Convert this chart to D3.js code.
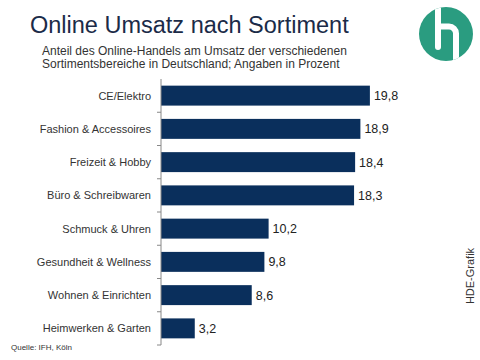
<!DOCTYPE html>
<html><head><meta charset="utf-8">
<script src="https://cdn.jsdelivr.net/npm/d3@7"></script>
<style>body{margin:0;background:#fff;}svg{display:block;font-family:"Liberation Sans",Arial,sans-serif;}</style>
</head><body>
<svg id="c" width="480" height="360"></svg>
<script>
const categories = ["CE/Elektro","Fashion & Accessoires","Freizeit & Hobby","Büro & Schreibwaren","Schmuck & Uhren","Gesundheit & Wellness","Wohnen & Einrichten","Heimwerken & Garten"];
const values = [19.8,18.9,18.4,18.3,10.2,9.8,8.6,3.2];
const valueLabels = ["19,8","18,9","18,4","18,3","10,2","9,8","8,6","3,2"];

const svg = d3.select("#c");
const x = d3.scaleLinear().domain([0,20]).range([161,372]);
const y = d3.scaleBand().domain(categories).range([79,345]).paddingInner(0.4).paddingOuter(0.2);

// title
svg.append("text").attr("x",30).attr("y",33).attr("font-size",23.5).attr("fill","#1b2b48").text("Online Umsatz nach Sortiment");
svg.append("text").attr("x",42).attr("y",55).attr("font-size",12).attr("fill","#333").text("Anteil des Online-Handels am Umsatz der verschiedenen");
svg.append("text").attr("x",42).attr("y",68).attr("font-size",12).attr("fill","#333").text("Sortimentsbereiche in Deutschland; Angaben in Prozent");

// logo
const defs = svg.append("defs");
defs.append("clipPath").attr("id","lc").append("circle").attr("r",27);
const lg = svg.append("g").attr("transform","translate(446,34)");
lg.append("circle").attr("r",27).attr("fill","#2a9c80");
const lgi = lg.append("g").attr("clip-path","url(#lc)");
lgi.append("path").attr("d","M-8,-32 L-8,13")
  .attr("fill","none").attr("stroke","#fff").attr("stroke-width",6).attr("stroke-linecap","round");
lgi.append("path").attr("d","M-8,-7.5 L3,-7.5 A7,7 0 0 1 10,-0.5 L10,32")
  .attr("fill","none").attr("stroke","#fff").attr("stroke-width",6);

// bars
svg.selectAll("rect.bar").data(categories).enter().append("rect")
  .attr("x",x(0)).attr("y",d=>y(d)).attr("height",y.bandwidth())
  .attr("width",(d,i)=>x(values[i])-x(0)).attr("fill","#0a2f5c");

// axis
const tickPos = categories.map(d=>y(d)-y.step()*y.paddingInner()/2).concat([345]);
svg.append("line").attr("x1",161).attr("x2",161).attr("y1",79).attr("y2",345).attr("stroke","#888").attr("stroke-width",1);
svg.selectAll("line.tk").data(tickPos.slice(1)).enter().append("line")
  .attr("x1",157).attr("x2",161).attr("y1",d=>d).attr("y2",d=>d).attr("stroke","#888");

// category labels
svg.selectAll("text.cat").data(categories).enter().append("text")
  .attr("x",151).attr("y",d=>y(d)+y.bandwidth()/2+4).attr("text-anchor","end")
  .attr("font-size",11).attr("fill","#333").text(d=>d);

// value labels
svg.selectAll("text.val").data(values).enter().append("text")
  .attr("x",d=>x(d)+4).attr("y",(d,i)=>y(categories[i])+y.bandwidth()/2+4.5)
  .attr("font-size",12.5).attr("fill","#222").text((d,i)=>valueLabels[i]);

svg.append("text").attr("transform","translate(474,276) rotate(-90)").attr("text-anchor","middle")
  .attr("font-size",11).attr("fill","#333").text("HDE-Grafik");
svg.append("text").attr("x",11).attr("y",350).attr("font-size",8).attr("fill","#333").text("Quelle: IFH, Köln");
</script>
</body></html>
